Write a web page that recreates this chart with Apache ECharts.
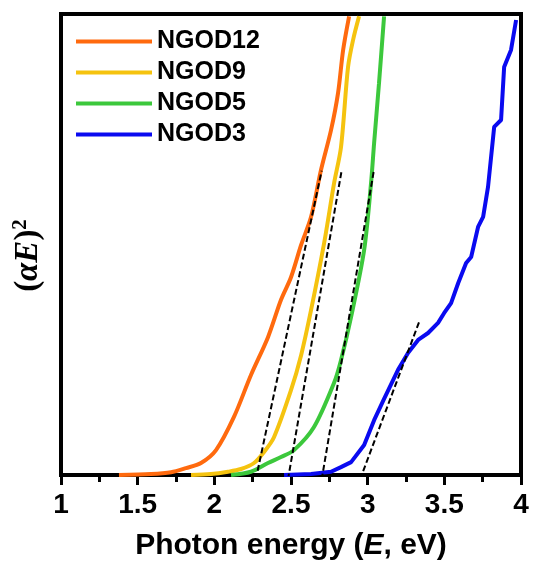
<!DOCTYPE html>
<html>
<head>
<meta charset="utf-8">
<script src="https://cdn.jsdelivr.net/npm/echarts@6/dist/echarts.min.js"></script>
<style>
  html, body { margin: 0; padding: 0; background: #fff; }
  #chart { width: 534px; height: 569px; }
</style>
</head>
<body>
<div id="chart"></div>
<script>
// photon energy (eV) and (alpha E)^2 in arbitrary units (0..100 = axis height)
const ngod12E = [1.378, 1.587, 1.718, 1.815, 1.913, 2.011, 2.128, 2.239, 2.350, 2.435, 2.500, 2.566, 2.631, 2.696, 2.761, 2.807, 2.840, 2.879]
const ngod12Y = [0, 0.2, 0.6, 1.5, 2.6, 5.4, 12.6, 21.7, 29.9, 38.0, 42.9, 49.9, 56.0, 66.2, 74.8, 82.9, 92.2, 99.5]

const ngod9E = [1.848, 1.978, 2.089, 2.174, 2.259, 2.324, 2.389, 2.500, 2.566, 2.631, 2.716, 2.781, 2.826, 2.872, 2.905, 2.944]
const ngod9Y = [0, 0.2, 0.7, 1.3, 2.6, 5.0, 8.2, 18.4, 26.0, 35.8, 50.3, 63.3, 71.1, 88.5, 94.4, 99.5]

const ngod5E = [2.109, 2.239, 2.350, 2.435, 2.520, 2.650, 2.781, 2.826, 2.892, 2.977, 3.022, 3.042, 3.074, 3.107]
const ngod5Y = [0, 0.7, 2.6, 3.9, 5.4, 10.4, 20.0, 24.9, 34.3, 48.8, 63.3, 72.0, 85.0, 99.5]

const ngod3E = [2.455, 2.631, 2.761, 2.826, 2.892, 2.977, 3.042, 3.107, 3.198, 3.264, 3.329, 3.394, 3.459, 3.498, 3.544, 3.590, 3.642, 3.675, 3.720, 3.753, 3.785, 3.825, 3.870, 3.890, 3.935, 3.968]
const ngod3Y = [0, 0.2, 0.7, 1.7, 2.8, 6.5, 11.9, 16.5, 22.8, 26.5, 29.3, 30.8, 33.0, 35.1, 37.3, 41.6, 46.0, 47.3, 53.8, 56.0, 62.5, 75.5, 77.0, 88.5, 92.2, 98.7]

// tangent (Tauc) lines: [E at start, E at end], [y at start, y at end]
const tangentE = [[2.27, 2.70], [2.48, 2.83], [2.70, 3.04], [2.95, 3.34]]
const tangentY = [[-1, 66], [-1, 66], [-1, 66], [-1, 33.6]]

const names = ['NGOD12', 'NGOD9', 'NGOD5', 'NGOD3']
const colors = ['#FF6A0E', '#F5C30F', '#3CC83C', '#0A0AF0']
const xTicks = [1, 1.5, 2, 2.5, 3, 3.5, 4]

const zip = (xs, ys) => xs.map((x, i) => [x, ys[i]])

const curves = [zip(ngod12E, ngod12Y), zip(ngod9E, ngod9Y), zip(ngod5E, ngod5Y), zip(ngod3E, ngod3Y)]

const series = curves.map((d, i) => ({
  name: names[i],
  type: 'line',
  data: d,
  showSymbol: false,
  smooth: i < 3 ? 0.3 : false,
  lineStyle: { width: 4, color: colors[i] },
  itemStyle: { color: colors[i] },
  z: 3,
}))

tangentE.forEach((e, i) => {
  series.push({
    name: 'tangent' + i,
    type: 'line',
    data: zip(e, tangentY[i]),
    showSymbol: false,
    silent: true,
    lineStyle: { width: 2, color: '#000', type: [6, 3] },
    z: 4,
  })
})

const myChart = echarts.init(document.getElementById('chart'))
myChart.setOption({
  animation: false,
  grid: {
    left: 61,
    right: 13,
    top: 14,
    bottom: 94,
    show: true,
    borderColor: '#000',
    borderWidth: 4,
  },
  legend: {
    data: names,
    orient: 'vertical',
    left: 71,
    top: 24,
    icon: 'rect',
    itemWidth: 76,
    itemHeight: 4,
    itemGap: 6,
    textStyle: {
      fontFamily: 'Liberation Sans',
      fontWeight: 'bold',
      fontSize: 25,
      lineHeight: 24.5,
      color: '#000',
    },
  },
  xAxis: {
    type: 'value',
    min: 1,
    max: 4,
    interval: 0.5,
    splitLine: { show: false },
    axisLine: { lineStyle: { color: '#000', width: 4 } },
    axisTick: { show: true, inside: false, length: 10, lineStyle: { width: 3, color: '#000' } },
    minorTick: { show: true, splitNumber: 2, length: 7, lineStyle: { width: 3, color: '#000' } },
    axisLabel: {
      margin: 16,
      fontFamily: 'Liberation Sans',
      fontWeight: 'bold',
      fontSize: 28,
      color: '#000',
      formatter: (v) => (xTicks.includes(v) ? String(v) : ''),
    },
    name: '{n|Photon energy (}{i|E}{n|, eV)}',
    nameLocation: 'middle',
    nameGap: 56,
    nameTextStyle: {
      rich: {
        n: { fontFamily: 'Liberation Sans', fontWeight: 'bold', fontSize: 30, color: '#000' },
        i: { fontFamily: 'Liberation Sans', fontWeight: 'bold', fontStyle: 'italic', fontSize: 30, color: '#000' },
      },
    },
  },
  yAxis: {
    type: 'value',
    min: 0,
    max: 100,
    splitLine: { show: false },
    axisLine: { show: true, lineStyle: { color: '#000', width: 4 } },
    axisTick: { show: false },
    axisLabel: { show: false },
    name: '{n|(}{i|αE}{n|)}{s|2}',
    nameLocation: 'middle',
    nameGap: 14,
    nameTextStyle: {
      padding: [0, 0, 0, -22],
      rich: {
        n: { fontFamily: 'Liberation Serif', fontWeight: 'bold', fontSize: 33, color: '#000' },
        i: { fontFamily: 'Liberation Serif', fontWeight: 'bold', fontStyle: 'italic', fontSize: 33, color: '#000' },
        s: { fontFamily: 'Liberation Serif', fontWeight: 'bold', fontSize: 21, color: '#000', padding: [0, 0, 16, 0] },
      },
    },
  },
  series: series,
})
</script>
</body>
</html>
